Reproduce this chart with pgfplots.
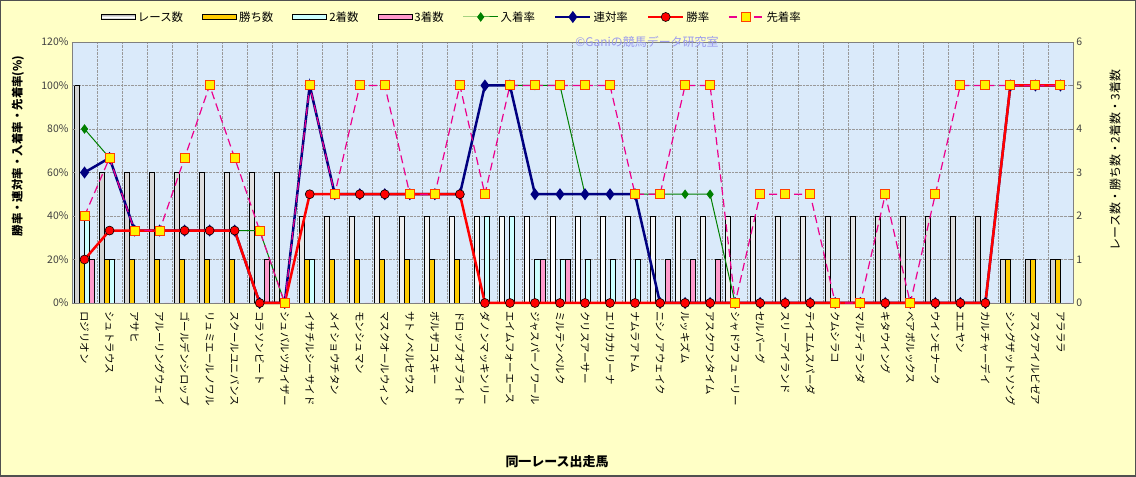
\documentclass[border=0pt]{standalone}
\usepackage{pgfplots}
\pgfplotsset{compat=1.18}
\usepackage{pgfplotstable}
\usepackage{fontspec}
\setmainfont{Noto Sans CJK JP}

\definecolor{chartbg}{HTML}{FFFFC6}
\definecolor{plotbg}{HTML}{DAEAFA}
\definecolor{edgegray}{HTML}{505050}
\definecolor{wincol}{HTML}{FFCC00}
\definecolor{seccol}{HTML}{CCFFFF}
\definecolor{thicol}{HTML}{FF99CC}
\definecolor{nyucol}{HTML}{008000}
\definecolor{rencol}{HTML}{000080}
\definecolor{senedge}{HTML}{FF4000}
\definecolor{wmark}{HTML}{9A9AEE}

\pgfplotsset{
  barleg/.style={legend image code/.code={\draw[##1] (0bp,-2.8bp) rectangle (34bp,2.8bp);}},
  lineleg/.style={legend image code/.code={\draw[mark repeat=2,mark phase=2,##1] plot coordinates {(0bp,0bp) (17.5bp,0bp) (35bp,0bp)};}},
}

% x: horse index, race..thi: counts, nyu/ren/sho/sen: rates in %
\pgfplotstableread{
x race win sec thi nyu ren sho sen
0 5 1 2 1 80 60 20 40
1 3 1 1 0 66.7 66.7 33.3 66.7
2 3 1 0 0 33.3 33.3 33.3 33.3
3 3 1 0 0 33.3 33.3 33.3 33.3
4 3 1 0 0 33.3 33.3 33.3 66.7
5 3 1 0 0 33.3 33.3 33.3 100
6 3 1 0 0 33.3 33.3 33.3 66.7
7 3 0 0 1 33.3 0 0 33.3
8 3 0 0 0 0 0 0 0
9 2 1 1 0 100 100 50 100
10 2 1 0 0 50 50 50 50
11 2 1 0 0 50 50 50 100
12 2 1 0 0 50 50 50 100
13 2 1 0 0 50 50 50 50
14 2 1 0 0 50 50 50 50
15 2 1 0 0 50 50 50 100
16 2 0 2 0 100 100 0 50
17 2 0 2 0 100 100 0 100
18 2 0 1 1 100 50 0 100
19 2 0 1 1 100 50 0 100
20 2 0 1 0 50 50 0 100
21 2 0 1 0 50 50 0 100
22 2 0 1 0 50 50 0 50
23 2 0 0 1 50 0 0 50
24 2 0 0 1 50 0 0 100
25 2 0 0 1 50 0 0 100
26 2 0 0 0 0 0 0 0
27 2 0 0 0 0 0 0 50
28 2 0 0 0 0 0 0 50
29 2 0 0 0 0 0 0 50
30 2 0 0 0 0 0 0 0
31 2 0 0 0 0 0 0 0
32 2 0 0 0 0 0 0 50
33 2 0 0 0 0 0 0 0
34 2 0 0 0 0 0 0 50
35 2 0 0 0 0 0 0 100
36 2 0 0 0 0 0 0 100
37 1 1 0 0 100 100 100 100
38 1 1 0 0 100 100 100 100
39 1 1 0 0 100 100 100 100
}\horses

\begin{document}
\begin{tikzpicture}[x=1bp,y=1bp]
\path[use as bounding box] (-72,-174) rectangle (1064,303);
\fill[chartbg] (-72,-174) rectangle (1064,303);
\draw[edgegray, line width=1.5bp] (-71.25,-173.25) rectangle (1063.25,302.25);

\pgfplotsset{
  base/.style={at={(0,0)}, anchor=south west, scale only axis,
    width=1001bp, height=261bp, xmin=-0.5, xmax=39.5,
    axis line style={gray}, tick style={gray}, major tick length=3bp,
    tick label style={font=\fontsize{10.5}{12}\selectfont, text=black!75},
    /pgf/number format/assume math mode=true},
  cnt/.style={ybar, bar width=0.2, draw=black, line width=0.9bp},
}

% counts, right axis
\begin{axis}[base, ymin=0, ymax=6, axis y line*=right,
    axis background/.style={fill=plotbg},
    xtick={0,...,39}, major x tick style={draw=none},
    minor xtick={-0.5,0.5,...,39.5}, xminorgrids, ymajorgrids,
    minor x tick style={draw=none},
    grid style={densely dotted, gray!80},
    ytick={0,...,6},
    xticklabels={ロジリオン,シュトラウス,アサヒ,アルーリングウェイ,ゴールデンシロップ,リュミエールノワル,スクールユニバンス,コラソンビート,シュバルツカイザー,イサチルシーサイド,メイショウチタン,モンシュマン,マスクオールウィン,サトノペルセウス,ボルザコスキー,ドロップオブライト,ダノンマッキンリー,エイムフォーエース,ジャスパーノワール,ミルテンベルク,クリスアーサー,エリカカリーナ,ナムラアトム,ニシノアウェイク,ルッキズム,アスクワンタイム,シャドウフューリー,セルバーグ,スリーアイランド,テイエムスパーダ,クムシラコ,マルディランダ,キタウイング,ベアポルックス,ウインモナーク,エエヤン,カルチャーデイ,シングザットソング,アスクアイルビゼア,アラララ},
    xticklabel style={yshift=-5bp, rotate=-90, anchor=west, text=black,
      font=\fontsize{10.5}{12}\selectfont},
  ]
\addplot[cnt, bar shift=-0.3, left color=gray!35, right color=gray!35, middle color=white] table[x=x, y=race] {\horses};
\addplot[cnt, bar shift=-0.1, fill=wincol] table[x=x, y=win] {\horses};
\addplot[cnt, bar shift=0.1, fill=seccol] table[x=x, y=sec] {\horses};
\addplot[cnt, bar shift=0.3, fill=thicol] table[x=x, y=thi] {\horses};
\end{axis}

% rates, left axis
\begin{axis}[base, ymin=0, ymax=120, axis y line*=left, axis x line=none,
    clip=false, xtick=\empty, ytick={0,20,...,120},
    yticklabel={\pgfmathprintnumber{\tick}\%},
    legend columns=8,
    legend style={at={(0.3796,1.0958)}, anchor=center, draw=none, fill=none,
      font=\fontsize{11.5}{13}\selectfont,
      /tikz/every even column/.append style={column sep=17bp}},
    lineleg,
  ]
\addlegendimage{barleg, draw=black, line width=0.9bp, top color=gray!75, bottom color=gray!75, middle color=white}
\addlegendentry{レース数}
\addlegendimage{barleg, draw=black, line width=0.9bp, fill=wincol}
\addlegendentry{勝ち数}
\addlegendimage{barleg, draw=black, line width=0.9bp, fill=seccol}
\addlegendentry{2着数}
\addlegendimage{barleg, draw=black, line width=0.9bp, fill=thicol}
\addlegendentry{3着数}
\addplot[nyucol, line width=1bp, mark=diamond*, mark size=4bp] table[x=x, y=nyu] {\horses};
\addlegendentry{入着率}
\addplot[rencol, line width=2.5bp, mark=diamond*, mark size=4bp] table[x=x, y=ren] {\horses};
\addlegendentry{連対率}
\addplot[red, line width=2.5bp, mark=*, mark size=4.5bp, mark options={fill=red, draw=black, line width=0.6bp}] table[x=x, y=sho] {\horses};
\addlegendentry{勝率}
\addplot[magenta, line width=1.2bp, dash pattern=on 8bp off 4.5bp, mark=square*, mark size=4.5bp, mark options={solid, fill=yellow, draw=senedge, line width=1bp}] table[x=x, y=sen] {\horses};
\addlegendentry{先着率}
\end{axis}

\node[font=\fontsize{12}{14}\selectfont, text=wmark] at (575,261) {©Ganiの競馬データ研究室};
\node[font=\bfseries\fontsize{11.5}{13}\selectfont, rotate=90] at (-54,157) {勝率・連対率・入着率・先着率(\%)};
\node[font=\fontsize{12}{14}\selectfont, rotate=90] at (1043,143) {レース数・勝ち数・2着数・3着数};
\node[font=\bfseries\fontsize{13}{15}\selectfont] at (485,-159) {同一レース出走馬};
\end{tikzpicture}
\end{document}
